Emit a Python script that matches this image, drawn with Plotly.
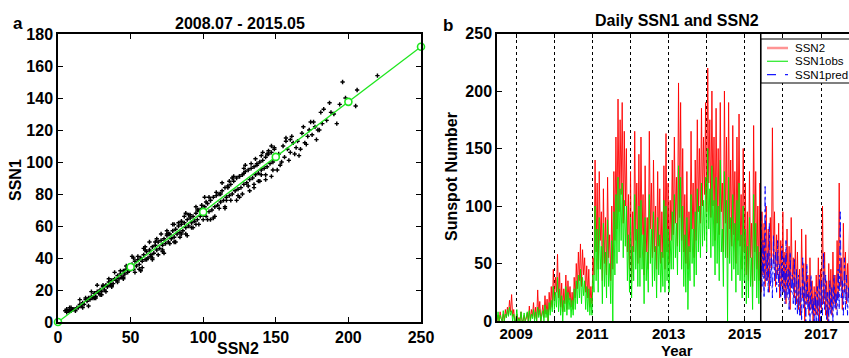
import plotly.graph_objects as go
import pandas as pd

# ---------------- Panel a: SSN1 vs SSN2 scatter ----------------
ssn2_pts = [5, 6, 7, 8, 9, 10, 11, 12, 6, 8, 13, 9,
            14, 15, 16, 17, 18, 19, 20, 21, 22, 23, 24, 25, 26, 27, 28, 29, 30, 31, 32, 33, 34, 35, 36, 37, 38, 39, 40, 41, 42, 43, 44, 45, 46, 47, 48, 49, 50, 26, 30, 37, 45,
            51, 52, 53, 54, 55, 56, 57, 58, 59, 60, 61, 62, 63, 64, 65, 66, 67, 68, 69, 70, 71, 72, 73, 74, 75, 76, 77, 78, 79, 80, 81, 82, 83, 84, 85, 86, 87, 88, 89, 90, 91, 92, 93, 94, 95, 96, 97, 98, 99, 100, 58, 65, 72, 80, 88, 95, 60, 75, 85, 90,
            101, 102, 103, 104, 105, 106, 107, 108, 109, 110, 111, 112, 113, 114, 115, 116, 117, 118, 119, 120, 121, 122, 123, 124, 125, 126, 127, 128, 129, 130, 131, 132, 133, 134, 135, 136, 137, 138, 139, 140, 141, 142, 143, 144, 145, 146, 147, 148, 149, 150, 105, 115, 125, 135, 143, 138, 102, 118, 128, 140, 147,
            152, 153, 155, 156, 158, 160, 162, 163, 165, 167, 168, 170, 172, 173, 175, 177, 178, 180, 182, 183, 185, 187, 188, 190, 192, 194, 196, 198, 200, 205, 206, 220, 157, 166, 174, 151, 160,
            15, 17, 19, 21, 23, 25, 27, 29, 31, 33, 35, 37, 39, 41, 43, 45, 47, 49,
            51, 53, 55, 57, 59, 61, 63, 65, 67, 69, 71, 73, 75, 77, 79, 81, 83, 85, 87, 89, 91, 93, 95, 97, 99,
            101, 103, 105, 107, 109, 111, 113, 115, 117, 119, 121, 123, 125, 127, 129, 131, 133, 135, 137, 139, 141, 143, 145, 147, 149,
            100, 104, 108, 112, 116, 120, 124, 128, 132, 136, 140, 144, 148,
            52, 56, 60, 64, 68, 72, 76, 80, 84, 88, 92, 96,
            154, 157, 159, 161, 164, 169, 171, 176, 179, 181]
ssn1_pts = [7, 8, 7, 9, 7, 8, 8, 7, 6, 7, 9, 9,
            9, 11, 10, 12, 11, 14, 13, 15, 14, 16, 15, 18, 16, 19, 18, 20, 19, 22, 20, 23, 22, 25, 23, 26, 24, 27, 26, 29, 27, 30, 28, 32, 30, 33, 31, 35, 33, 15, 17, 22, 28,
            36, 33, 38, 35, 39, 36, 40, 38, 42, 39, 44, 40, 45, 42, 47, 43, 48, 45, 50, 46, 51, 48, 52, 49, 54, 50, 55, 52, 57, 53, 58, 55, 60, 56, 61, 57, 62, 59, 64, 60, 65, 62, 66, 63, 68, 64, 70, 66, 71, 67, 34, 40, 45, 50, 55, 61, 45, 57, 63, 67,
            72, 66, 74, 69, 76, 70, 78, 72, 79, 73, 80, 75, 82, 76, 84, 78, 85, 79, 86, 80, 88, 82, 90, 83, 91, 84, 92, 86, 94, 87, 95, 89, 96, 90, 97, 92, 99, 93, 100, 95, 101, 96, 103, 97, 105, 99, 106, 100, 108, 102, 64, 72, 78, 86, 89, 88, 75, 88, 96, 104, 110,
            105, 98, 110, 103, 108, 106, 112, 105, 113, 108, 118, 112, 116, 120, 117, 122, 114, 120, 124, 133, 126, 137, 131, 130, 124, 136, 150, 140, 137, 135, 145, 154, 113, 104, 125, 95, 114,
            14, 9, 15, 10, 19, 15, 23, 17, 23, 19, 27, 23, 31, 25, 32, 27, 35, 32,
            41, 31, 41, 32, 46, 39, 50, 39, 50, 42, 55, 43, 55, 49, 61, 50, 62, 55, 66, 54, 67, 59, 72, 61, 73,
            78, 64, 76, 65, 81, 71, 87, 71, 84, 76, 91, 76, 91, 80, 98, 85, 99, 84, 98, 88, 106, 92, 107, 91, 109,
            64, 78, 66, 80, 76, 90, 79, 93, 82, 102, 92, 105, 95,
            40, 33, 47, 41, 52, 44, 55, 61, 53, 68, 59, 70,
            100, 115, 101, 116, 109, 122, 111, 125, 120, 131]

fit_x = [0, 50, 100, 150, 200, 250]
fit_y = [0, 34.4, 68.8, 103.2, 137.6, 172.0]

# ---------------- Panel b: daily series (sampled every 10 days from 2008-07-01) ----------------
ssn2_daily = [
    0, 5, 0, 8, 2, 0, 6, 0, 10, 3, 12, 5, 18, 8, 23, 4, 10, 0,
    0, 6, 0, 3, 0, 8, 0, 0, 5, 0, 2, 7, 0, 13, 0, 10, 4, 16,
    2, 12, 0, 27, 5, 17, 0, 9, 14, 3, 22, 6, 19, 0, 25, 10, 30, 12,
    45, 18, 38, 25, 58, 20, 42, 12, 33, 8, 28, 15, 40, 10, 35, 18, 30, 12,
    25, 10, 38, 20, 50, 28, 60, 35, 67, 30, 62, 40, 55, 25, 48, 20, 45, 12,
    30, 15, 55, 40, 140, 60, 120, 45, 130, 70, 95, 35, 115, 50, 90, 40, 125, 55,
    75, 35, 100, 45, 130, 70, 160, 80, 193, 95, 175, 110, 190, 85, 165, 100, 150, 60,
    110, 45, 130, 35, 95, 60, 165, 70, 120, 50, 145, 55, 160, 75, 110, 40, 135, 60,
    90, 45, 165, 80, 120, 55, 140, 60, 100, 45, 130, 65, 115, 50, 95, 55, 135, 45,
    163, 60, 120, 50, 105, 70, 140, 75, 160, 85, 125, 65, 207, 90, 190, 70, 150, 60,
    110, 50, 130, 45, 95, 60, 165, 80, 120, 55, 140, 70, 175, 95, 150, 85, 185, 100,
    160, 110, 190, 95, 220, 120, 175, 90, 200, 100, 160, 70, 185, 85, 150, 75, 190, 95,
    120, 60, 200, 85, 160, 55, 190, 80, 140, 65, 170, 75, 130, 50, 160, 70, 180, 65,
    110, 45, 150, 60, 120, 40, 95, 35, 130, 55, 85, 30, 170, 60, 130, 45, 100, 35,
    120, 25, 95, 40, 85, 30, 100, 35, 80, 25, 90, 45, 168, 50, 95, 30, 75, 40,
    85, 20, 70, 30, 95, 25, 60, 15, 80, 30, 65, 10, 90, 35, 55, 20, 70, 15,
    60, 10, 45, 5, 80, 20, 50, 0, 75, 15, 40, 5, 55, 10, 35, 0, 30, 5,
    40, 5, 55, 0, 45, 10, 100, 15, 60, 5, 35, 0, 50, 10, 45, 5, 60, 15,
    40, 10, 70, 20, 120, 30, 55, 10, 85, 25, 60, 15, 50, 20, 90]

ssn1obs_daily = [
    0, 8, 0, 5, 2, 0, 9, 0, 6, 3, 10, 4, 12, 5, 9, 0, 6, 0,
    0, 10, 0, 2, 0, 8, 0, 0, 7, 0, 3, 8, 0, 9, 0, 6, 2, 10,
    0, 8, 0, 12, 3, 10, 0, 5, 9, 0, 14, 3, 10, 0, 16, 5, 18, 8,
    30, 10, 25, 12, 38, 8, 28, 5, 22, 0, 18, 8, 30, 5, 25, 10, 20, 3,
    18, 5, 28, 10, 35, 15, 40, 20, 45, 15, 38, 22, 35, 10, 30, 8, 28, 5,
    20, 5, 40, 25, 100, 35, 80, 25, 90, 45, 65, 15, 85, 30, 60, 20, 88, 30,
    50, 15, 70, 0, 95, 40, 110, 50, 125, 60, 115, 70, 120, 55, 105, 65, 100, 35,
    75, 25, 90, 20, 65, 35, 110, 45, 80, 30, 100, 30, 105, 45, 75, 15, 90, 35,
    60, 25, 110, 50, 80, 30, 95, 35, 65, 20, 90, 40, 75, 25, 60, 30, 105, 25,
    100, 35, 80, 25, 70, 45, 95, 45, 110, 55, 85, 40, 135, 60, 125, 45, 100, 30,
    75, 25, 90, 10, 65, 35, 110, 50, 80, 30, 95, 40, 115, 60, 100, 55, 120, 65,
    105, 70, 125, 60, 150, 80, 115, 55, 135, 65, 105, 40, 125, 50, 100, 35, 140, 60,
    80, 30, 130, 55, 105, 0, 125, 50, 90, 35, 110, 45, 85, 25, 105, 40, 120, 35,
    75, 20, 100, 35, 80, 15, 65, 20, 90, 30, 55, 10, 110, 35, 85, 20, 65, 15, 60]

ssn1pred_daily = [
    95, 30, 70, 20, 117, 35, 60, 25, 85, 30, 55, 20, 75, 35, 60, 25, 70, 30,
    50, 20, 65, 25, 55, 15, 70, 20, 45, 10, 60, 25, 40, 15, 55, 10, 45, 5,
    40, 5, 30, 0, 55, 10, 35, 0, 50, 10, 25, 0, 40, 5, 20, 0, 25, 0,
    30, 0, 40, 0, 35, 5, 60, 10, 40, 0, 25, 0, 35, 5, 30, 0, 40, 10,
    25, 5, 45, 10, 95, 20, 35, 5, 55, 10, 40, 5, 30, 10, 60]

year_ticks = ['2009-01-01', '2010-01-01', '2011-01-01', '2012-01-01', '2013-01-01',
              '2014-01-01', '2015-01-01', '2016-01-01', '2017-01-01']
year_labels = ['2009', '', '2011', '', '2013', '', '2015', '', '2017']

legend_names = ['SSN2', 'SSN1obs', 'SSN1pred']
legend_colors = ['rgba(255,60,60,0.55)', 'rgba(0,230,0,0.8)', 'rgba(0,0,255,0.9)']
legend_dash = ['solid', 'solid', 'dash']
legend_widths = [2.5, 1.3, 1.3]

dates = pd.date_range('2008-07-01', periods=len(ssn2_daily), freq='10D')
obs_dates = dates[:len(ssn1obs_daily)]
pred_dates = pd.date_range(dates[len(ssn1obs_daily)], periods=len(ssn1pred_daily), freq='10D')

FONT = "Liberation Sans, Arial, sans-serif"
W, H = 849, 358

fig = go.Figure()

fig.add_trace(go.Scatter(x=ssn2_pts, y=ssn1_pts, mode='markers',
                         marker=dict(color='black', size=3.6, symbol='cross'),
                         showlegend=False, xaxis='x', yaxis='y'))
fig.add_trace(go.Scatter(x=fit_x, y=fit_y, mode='lines+markers',
                         line=dict(color='#1ee61e', width=1.3),
                         marker=dict(color='white', size=7, symbol='circle',
                                     line=dict(color='#1ee61e', width=1.6)),
                         cliponaxis=False, showlegend=False, xaxis='x', yaxis='y'))

fig.add_trace(go.Scatter(x=dates, y=ssn2_daily, mode='lines', name='SSN2',
                         line=dict(color='rgba(255,0,0,0.9)', width=1),
                         showlegend=False, xaxis='x2', yaxis='y2'))
fig.add_trace(go.Scatter(x=obs_dates, y=ssn1obs_daily, mode='lines', name='SSN1obs',
                         line=dict(color='rgba(0,235,0,0.9)', width=1),
                         showlegend=False, xaxis='x2', yaxis='y2'))
fig.add_trace(go.Scatter(x=pred_dates, y=ssn1pred_daily, mode='lines', name='SSN1pred',
                         line=dict(color='rgba(0,0,255,0.9)', width=1, dash='dashdot'),
                         showlegend=False, xaxis='x2', yaxis='y2'))

tickfont = dict(family=FONT, size=16, color='black', weight='bold')
axis_common = dict(showline=True, linecolor='black', linewidth=1.5, ticks='inside',
                   ticklen=5, tickcolor='black', tickwidth=1, showgrid=False,
                   zeroline=False, tickfont=tickfont)

fig.update_layout(
    width=W, height=H,
    margin=dict(l=0, r=0, t=0, b=0, autoexpand=False),
    paper_bgcolor='white', plot_bgcolor='white',
    showlegend=False,
    xaxis=dict(domain=[58/W, 421/W], range=[0, 250], tickvals=[0, 50, 100, 150, 200, 250],
               mirror='ticks', anchor='y', **axis_common),
    yaxis=dict(domain=[(H-322)/H, (H-34)/H], range=[0, 180], tickvals=list(range(0, 181, 20)),
               mirror='ticks', anchor='x', **axis_common),
    xaxis2=dict(domain=[497/W, 1.0], range=['2008-07-01', '2017-09-26'], type='date',
                tickvals=year_ticks, ticktext=year_labels, mirror='ticks', anchor='y2',
                showline=True, linecolor='black', linewidth=1.5, ticks='inside', ticklen=5,
                tickcolor='black', showgrid=True, gridcolor='black', griddash='dot',
                gridwidth=1, zeroline=False, ticklabelstandoff=-2,
                tickfont=dict(family=FONT, size=15, color='black', weight='bold')),
    yaxis2=dict(domain=[(H-321)/H, (H-33.5)/H], range=[0, 250], tickvals=[0, 50, 100, 150, 200, 250],
                anchor='x2', **axis_common),
)

# boundary between observed and predicted period
fig.add_shape(type='line', xref='x2', yref='y2 domain', x0='2015-06-03', x1='2015-06-03',
              y0=0, y1=1, line=dict(color='black', width=1.5))

# legend box (drawn manually so it can run off the right edge like the original)
fig.add_shape(type='rect', xref='paper', yref='paper', x0=761/W, x1=1.05,
              y0=(H-83)/H, y1=(H-39)/H, fillcolor='white',
              line=dict(color='black', width=1.2), layer='above')
for i, (nm, col, dsh, lw) in enumerate(zip(legend_names, legend_colors, legend_dash, legend_widths)):
    yy = (H - (48 + 13.3*i))/H
    fig.add_shape(type='line', xref='paper', yref='paper', x0=767/W, x1=788/W, y0=yy, y1=yy,
                  line=dict(color=col, width=lw, dash=dsh), layer='above')
    fig.add_annotation(text=nm, x=793/W, y=yy, xref='paper', yref='paper', showarrow=False,
                       xanchor='left', yanchor='middle',
                       font=dict(family=FONT, size=11.5, color='black'))

def ann(text, x, y, size=16, angle=0, pad=1):
    fig.add_annotation(text=text, x=x/W, y=(H-y)/H, xref='paper', yref='paper',
                       showarrow=False, textangle=angle, xanchor='center', yanchor='middle',
                       borderpad=pad,
                       font=dict(family=FONT, size=size, color='black', weight='bold'))

ann('2008.07 - 2015.05', 240, 23)
ann('Daily SSN1 and SSN2', 677, 21)
ann('a', 18, 23, size=17)
ann('b', 448, 26, size=17)
ann('SSN2', 238, 348)
ann('SSN1', 15, 180, angle=-90)
ann('Year', 677, 350, size=15, pad=0)
ann('Sunspot Number', 452, 177, angle=-90)

fig.write_html("out.html", config={'displayModeBar': False},
               post_script="document.body.style.margin='0px';")
